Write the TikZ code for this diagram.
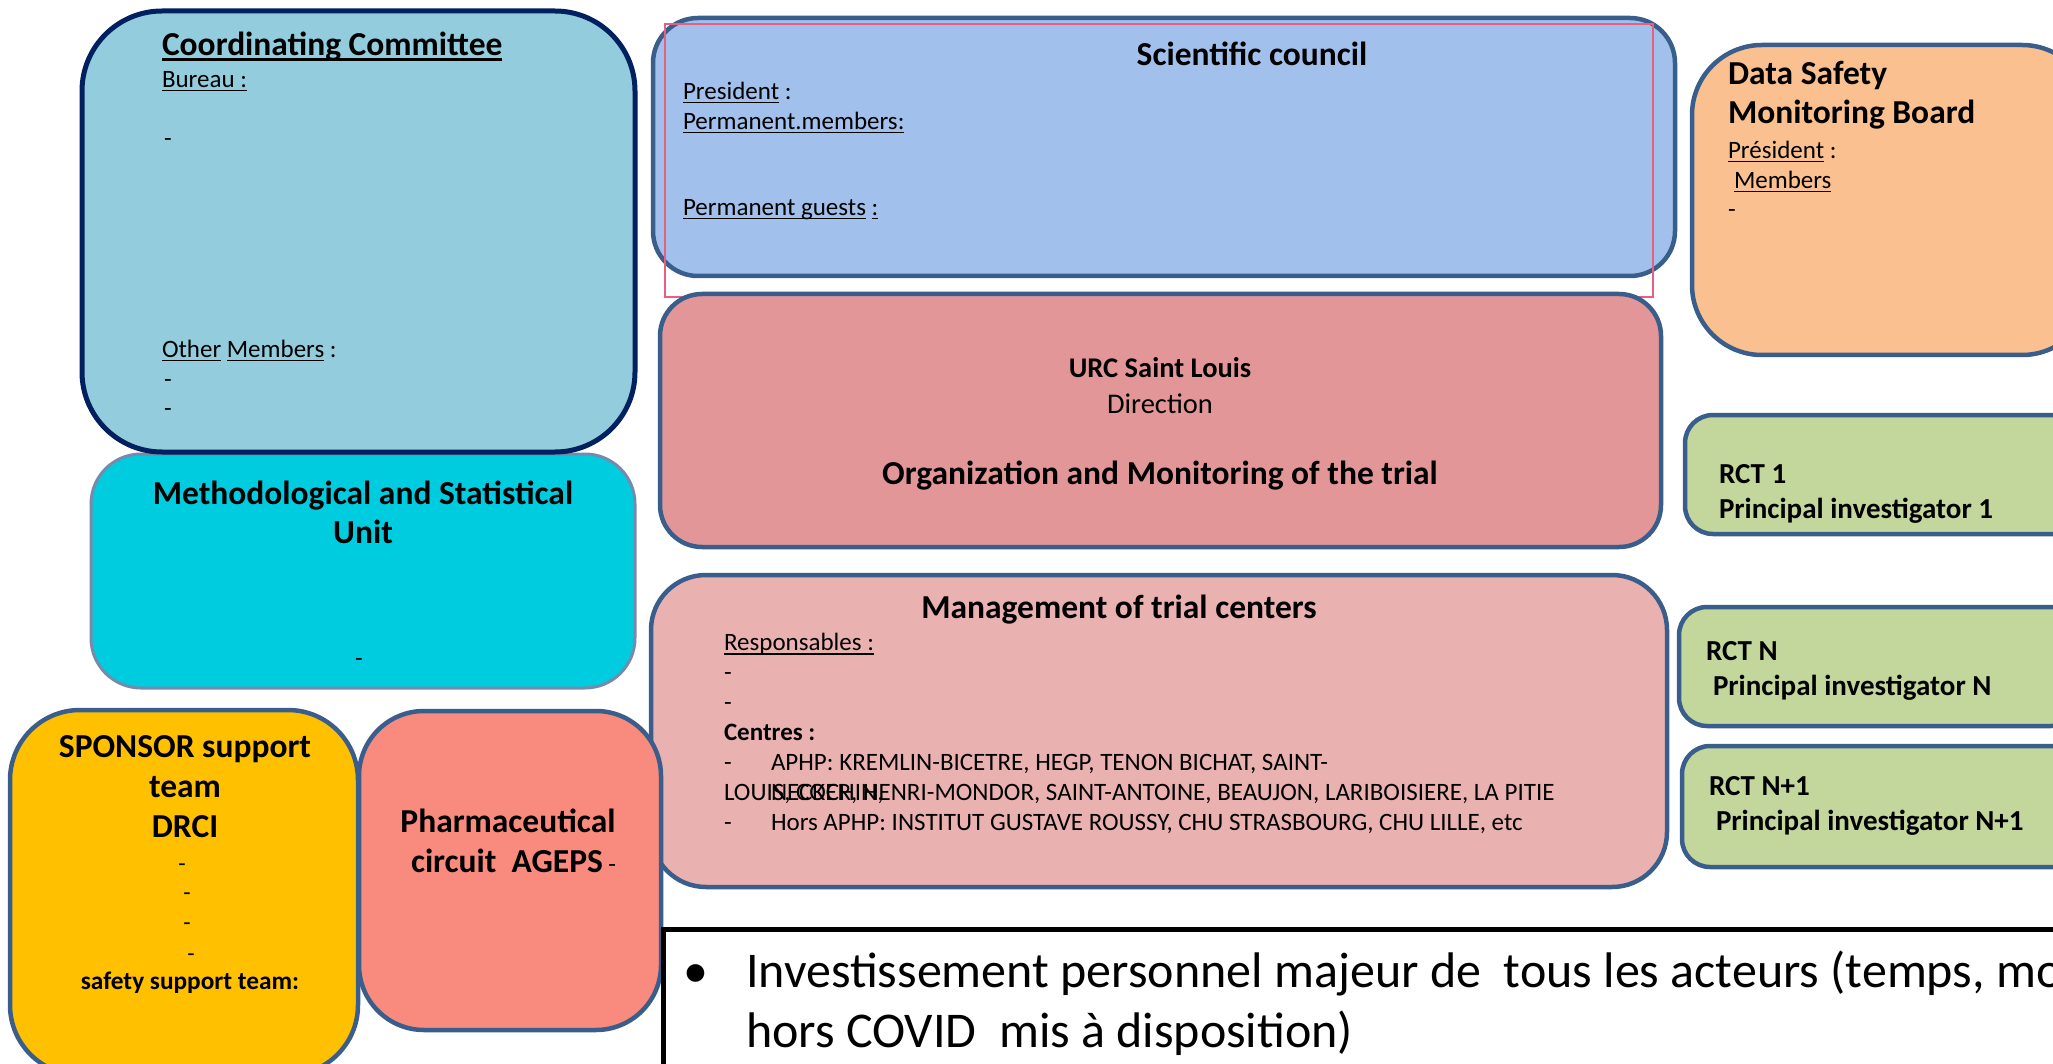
\documentclass[tikz,border=0pt]{standalone}
\usepackage{fontspec}
\setmainfont{Carlito}

% underline helper: rule of given depth and thickness under the text
\newsavebox\ulbox
\newcommand\ulwith[3]{\sbox\ulbox{#3}\rlap{\rule[-#1]{\wd\ulbox}{#2}}\usebox\ulbox}
\newcommand\ulsmall[1]{\ulwith{4pt}{1.8pt}{#1}}
\newcommand\ulbig[1]{\ulwith{6pt}{3pt}{#1}}

\definecolor{edgeblue}{RGB}{58,94,140}
\definecolor{navy}{RGB}{0,32,96}
\definecolor{ccfill}{RGB}{147,205,221}
\definecolor{msufill}{RGB}{0,204,224}
\definecolor{msuedge}{RGB}{118,138,172}
\definecolor{sponsorfill}{RGB}{255,192,0}
\definecolor{pharmafill}{RGB}{249,138,126}
\definecolor{scifill}{RGB}{162,192,236}
\definecolor{urcfill}{RGB}{227,150,151}
\definecolor{mgmtfill}{RGB}{234,177,177}
\definecolor{dsmbfill}{RGB}{250,192,144}
\definecolor{rctfill}{RGB}{195,214,155}
\definecolor{guide}{RGB}{232,96,126}

\tikzset{
  panel/.style={draw=edgeblue, line width=4.5pt, inner sep=0pt, outer sep=0pt, anchor=north west},
  txt/.style={inner sep=0pt, outer sep=0pt, anchor=base west, font=\fontsize{25}{30}\selectfont},
  ctxt/.style={inner sep=0pt, outer sep=0pt, anchor=base, font=\fontsize{25}{30}\selectfont},
  head/.style={font=\fontsize{33.5}{40}\selectfont\bfseries},
  rct/.style={font=\fontsize{29}{35}\selectfont\bfseries},
}

\begin{document}
\begin{tikzpicture}[x=1pt,y=-1pt]
\useasboundingbox (0,0) rectangle (2053,1064);

% ---------- left column ----------
\node[panel, draw=msuedge, line width=3pt, fill=msufill, rounded corners=50pt,
      minimum width=544pt, minimum height=234pt] (msu) at (91,454) {};
\node[panel, draw=navy, line width=5pt, fill=ccfill, rounded corners=80pt,
      minimum width=553pt, minimum height=441pt] (cc) at (82,11) {};
\node[panel, fill=sponsorfill, rounded corners=70pt,
      minimum width=348pt, minimum height=365pt] (sponsor) at (10,710) {};

% ---------- centre column ----------
\node[panel, fill=scifill, rounded corners=45pt,
      minimum width=1022pt, minimum height=258pt] (sci) at (653,18) {};
\node[draw=guide, line width=1.2pt, inner sep=0pt, outer sep=0pt, anchor=north west,
      minimum width=988pt, minimum height=273pt] (guide) at (665,24) {};
\node[panel, fill=urcfill, rounded corners=42pt,
      minimum width=1001pt, minimum height=253pt] (urc) at (660,294) {};
\node[panel, fill=mgmtfill, rounded corners=55pt,
      minimum width=1016pt, minimum height=312pt] (mgmt) at (651,575) {};
\node[panel, fill=pharmafill, rounded corners=65pt,
      minimum width=302pt, minimum height=319pt] (pharma) at (359,711) {};

% ---------- right column ----------
\node[panel, fill=dsmbfill, rounded corners=70pt,
      minimum width=400pt, minimum height=310pt] (dsmb) at (1692,45) {};
\node[panel, fill=rctfill, rounded corners=28pt,
      minimum width=400pt, minimum height=119pt] (rct1) at (1685,415) {};
\node[panel, fill=rctfill, rounded corners=28pt,
      minimum width=400pt, minimum height=119pt] (rctn) at (1679,607) {};
\node[panel, fill=rctfill, rounded corners=28pt,
      minimum width=400pt, minimum height=121pt] (rctn1) at (1682,746) {};

% ---------- bottom note ----------
\node[draw=black, line width=5pt, fill=white, inner sep=0pt, outer sep=0pt, anchor=north west,
      minimum width=1450pt, minimum height=160pt] (note) at (663,929) {};

\begin{scope}[yshift=-2.5pt]
% ---------- Coordinating Committee ----------
\node[txt, head] (ccT) at (162,53) {\ulbig{Coordinating Committee}};
\node[txt] (ccB) at (162,85) {\ulsmall{Bureau :}};
\node[txt] (ccD1) at (164,144) {-};
\node[txt] (ccO) at (162,355) {\ulsmall{Other} \ulsmall{Members} :};
\node[txt] (ccD2) at (164,385) {-};
\node[txt] (ccD3) at (164,414) {-};

% ---------- Methodological unit ----------
\node[ctxt, head] (msuT1) at (363,502) {Methodological and Statistical};
\node[ctxt, head] (msuT2) at (363,541) {Unit};
\node[ctxt] (msuD) at (359,664) {-};

% ---------- Sponsor ----------
\node[ctxt, head] (spT1) at (185,755) {SPONSOR support};
\node[ctxt, head] (spT2) at (185,795) {team};
\node[ctxt, head] (spT3) at (185,835) {DRCI};
\node[ctxt, font=\fontsize{24}{29}\selectfont] (spD1) at (182,869) {-};
\node[ctxt, font=\fontsize{24}{29}\selectfont] (spD2) at (187,898) {-};
\node[ctxt, font=\fontsize{24}{29}\selectfont] (spD3) at (187,928) {-};
\node[ctxt, font=\fontsize{24}{29}\selectfont] (spD4) at (191,959) {-};
\node[ctxt, font=\fontsize{25.3}{30}\selectfont\bfseries] (spS) at (190,987) {safety support team:};

% ---------- Pharmaceutical circuit ----------
\node[ctxt, head] (phT1) at (508,830) {Pharmaceutical};
\node[txt, head] (phT2) at (411,870) {circuit\ \ AGEPS\,{\fontsize{25}{30}\selectfont\mdseries -}};

% ---------- Scientific council ----------
\node[ctxt, head] (sciT) at (1252,63) {Scientific council};
\node[txt] (sciP) at (683,97) {\ulsmall{President} :};
\node[txt] (sciM) at (683,127) {\ulsmall{Permanent.members:}};
\node[txt] (sciG) at (683,213) {\ulsmall{Permanent guests} \ulsmall{:}};

% ---------- URC ----------
\node[ctxt, font=\fontsize{28.5}{34}\selectfont\bfseries] (urcT) at (1160,375) {URC Saint Louis};
\node[ctxt, font=\fontsize{28.5}{34}\selectfont] (urcD) at (1160,411) {Direction};
\node[ctxt, head] (urcO) at (1160,482) {Organization and Monitoring of the trial};

% ---------- Management of trial centers ----------
\node[ctxt, head] (mgT) at (1119,616) {Management of trial centers};
\node[txt] (mgR) at (724,648) {\ulsmall{Responsables :}};
\node[txt] (mgD1) at (724,678) {-};
\node[txt] (mgD2) at (724,708) {-};
\node[txt, font=\fontsize{25}{30}\selectfont\bfseries] (mgC) at (724,738) {Centres :};
\node[txt] (mgL1d) at (724,768) {-};
\node[txt] (mgL1) at (771,768) {APHP: KREMLIN-BICETRE, HEGP, TENON BICHAT, SAINT-};
\node[txt] (mgL2a) at (724,798) {LOUIS, COCHIN,};
\node[txt] (mgL2) at (771,798) {NECKER, HENRI-MONDOR, SAINT-ANTOINE, BEAUJON, LARIBOISIERE, LA PITIE};
\node[txt] (mgL3d) at (724,828) {-};
\node[txt] (mgL3) at (771,828) {Hors APHP: INSTITUT GUSTAVE ROUSSY, CHU STRASBOURG, CHU LILLE, etc};

% ---------- Data Safety Monitoring Board ----------
\node[txt, head] (dsT1) at (1728,82) {Data Safety};
\node[txt, head] (dsT2) at (1728,121) {Monitoring Board};
\node[txt] (dsP) at (1728,156) {\ulsmall{Président} :};
\node[txt] (dsM) at (1734,186) {\ulsmall{Members}};
\node[txt] (dsD) at (1728,215) {-};

% ---------- RCTs ----------
\node[txt, rct] (r1a) at (1719,481) {RCT 1};
\node[txt, rct] (r1b) at (1719,516) {Principal investigator 1};
\node[txt, rct] (rna) at (1706,658) {RCT N};
\node[txt, rct] (rnb) at (1713,693) {Principal investigator N};
\node[txt, rct] (rn1a) at (1709,793) {RCT N+1};
\node[txt, rct] (rn1b) at (1716,828) {Principal investigator N+1};

% ---------- bottom note text ----------
\node[txt, font=\fontsize{50}{60}\selectfont] (nB) at (683,985) {•};
\node[txt, font=\fontsize{50}{60}\selectfont] (nL1) at (746,985) {Investissement personnel majeur de\ \ tous les acteurs (temps, mo};
\node[txt, font=\fontsize{50}{60}\selectfont] (nL2) at (746,1045) {hors COVID\ \ mis à disposition)};
\end{scope}
\end{tikzpicture}
\end{document}
